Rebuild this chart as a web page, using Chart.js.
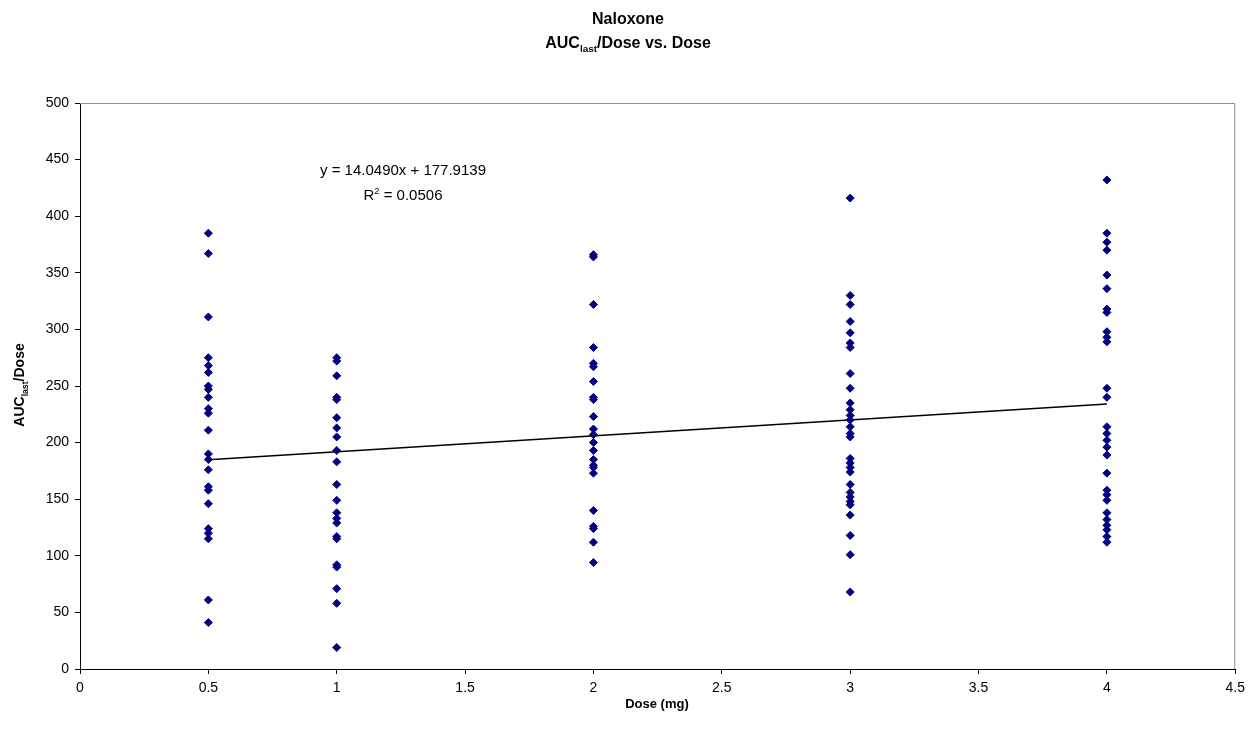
<!DOCTYPE html>
<html>
<head>
<meta charset="utf-8">
<title>Naloxone AUClast/Dose vs. Dose</title>
<script src="https://cdn.jsdelivr.net/npm/chart.js@4"></script>
<style>
  html, body { margin: 0; padding: 0; background: #fff; }
  canvas { display: block; }
</style>
</head>
<body>
<canvas id="aucChart" width="1251" height="729"></canvas>
<script>
// dose groups (mg) and AUClast/Dose values
const doses = [0.5, 1, 2, 3, 4];
const dose05 = [385, 367, 311, 275, 268, 262, 250, 247, 240, 230, 226, 211, 190, 185, 176, 161, 158, 146, 124, 120, 115, 61, 41];
const dose1 = [275, 272, 259, 240, 238, 222, 213, 205, 193, 183, 163, 149, 138, 133, 129, 117, 115, 92, 90, 71, 58, 19];
const dose2 = [366, 364, 322, 284, 270, 267, 254, 240, 238, 223, 212, 207, 200, 193, 185, 180, 178, 173, 140, 126, 124, 112, 94];
const dose3 = [416, 330, 322, 307, 297, 288, 284, 261, 248, 235, 229, 224, 220, 214, 208, 205, 186, 182, 178, 174, 163, 156, 152, 148, 145, 136, 118, 101, 68];
const dose4 = [432, 385, 377, 370, 348, 336, 318, 315, 298, 293, 289, 248, 240, 214, 208, 202, 196, 189, 173, 158, 154, 149, 138, 132, 127, 123, 117, 112];
const groups = [dose05, dose1, dose2, dose3, dose4];

// linear fit printed on the chart
const slope = 14.0490;
const intercept = 177.9139;
const rSquared = '0.0506';
const fitRange = [0.5, 4];

const yTicks = { min: 0, max: 500, step: 50 };
const xTicks = { min: 0, max: 4.5, step: 0.5 };

const points = [];
groups.forEach((vals, i) => vals.forEach(v => points.push({ x: doses[i], y: v })));
const fitLine = fitRange.map(x => ({ x: x, y: slope * x + intercept }));

// draws a line of text that may contain a subscript / superscript part
function drawParts(ctx, parts, x, y, size, bold) {
    const f = (s) => (bold ? 'bold ' : '') + s + 'px "Liberation Sans", Arial, sans-serif';
    let w = 0;
    parts.forEach(p => {
        ctx.font = f(p.sub || p.sup ? size * 0.62 : size);
        w += ctx.measureText(p.t).width;
    });
    let cx = x - w / 2;
    ctx.textAlign = 'left';
    ctx.textBaseline = 'alphabetic';
    parts.forEach(p => {
        const s = p.sub || p.sup ? size * 0.62 : size;
        ctx.font = f(s);
        const dy = p.sub ? size * 0.25 : p.sup ? -size * 0.4 : 0;
        ctx.fillText(p.t, cx, y + dy);
        cx += ctx.measureText(p.t).width;
    });
}

const labelsPlugin = {
    id: 'labels',
    beforeDatasetsDraw(chart) {
        const { ctx, chartArea: a } = chart;
        ctx.save();
        ctx.strokeStyle = '#8c8c8c';
        ctx.lineWidth = 1;
        ctx.beginPath();
        ctx.moveTo(a.left, a.top + 0.5);
        ctx.lineTo(a.right - 0.5, a.top + 0.5);
        ctx.lineTo(a.right - 0.5, a.bottom);
        ctx.stroke();
        ctx.restore();
    },
    afterDraw(chart) {
        const { ctx } = chart;
        ctx.save();
        ctx.fillStyle = '#000';
        // title
        drawParts(ctx, [{ t: 'Naloxone' }], 628, 24, 16, true);
        drawParts(ctx, [{ t: 'AUC' }, { t: 'last', sub: true }, { t: '/Dose vs. Dose' }], 628, 48, 16, true);
        // trendline label
        drawParts(ctx, [{ t: 'y = ' + slope.toFixed(4) + 'x + ' + intercept.toFixed(4) }], 403, 175, 15, false);
        drawParts(ctx, [{ t: 'R' }, { t: '2', sup: true }, { t: ' = ' + rSquared }], 403, 200, 15, false);
        // x axis title
        drawParts(ctx, [{ t: 'Dose (mg)' }], 657, 708, 13, true);
        // y axis title
        ctx.translate(24, 385);
        ctx.rotate(-Math.PI / 2);
        drawParts(ctx, [{ t: 'AUC' }, { t: 'last', sub: true }, { t: '/Dose' }], 0, 0, 14, true);
        ctx.restore();
    }
};

const tickFont = { family: '"Liberation Sans", Arial, sans-serif', size: 14 };

new Chart(document.getElementById('aucChart'), {
    type: 'scatter',
    data: {
        datasets: [
            {
                label: 'AUClast/Dose',
                data: points,
                pointStyle: 'rectRot',
                pointRadius: 4,
                backgroundColor: '#000080',
                borderColor: '#000080',
                borderWidth: 1
            },
            {
                type: 'line',
                label: 'Linear fit',
                data: fitLine,
                borderColor: '#000',
                borderWidth: 1.5,
                pointRadius: 0,
                fill: false
            }
        ]
    },
    options: {
        responsive: false,
        animation: false,
        layout: { padding: { top: 103, right: 15, left: 0, bottom: 0 } },
        plugins: { legend: { display: false }, tooltip: { enabled: false } },
        scales: {
            x: {
                type: 'linear',
                min: xTicks.min,
                max: xTicks.max,
                afterFit: s => { s.height = 60; },
                grid: { drawOnChartArea: false, drawTicks: true, tickLength: 5, color: '#000' },
                border: { color: '#000', width: 1 },
                ticks: { stepSize: xTicks.step, color: '#000', font: tickFont, padding: 6, maxRotation: 0,
                         callback: v => String(v) }
            },
            y: {
                min: yTicks.min,
                max: yTicks.max,
                afterFit: s => { s.width = 80; },
                grid: { drawOnChartArea: false, drawTicks: true, tickLength: 5, color: '#000' },
                border: { color: '#000', width: 1 },
                ticks: { stepSize: yTicks.step, color: '#000', font: tickFont, padding: 6 }
            }
        }
    },
    plugins: [labelsPlugin]
});
</script>
</body>
</html>
